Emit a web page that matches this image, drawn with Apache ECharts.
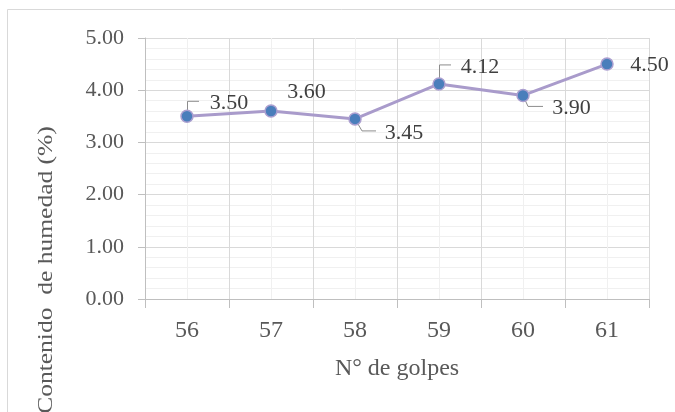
<!DOCTYPE html>
<html>
<head>
<meta charset="utf-8">
<script src="https://cdn.jsdelivr.net/npm/echarts@6/dist/echarts.min.js"></script>
<style>
  html, body { margin: 0; padding: 0; background: #fff; }
  #chart { width: 675px; height: 412px; }
</style>
</head>
<body>
<div id="chart"></div>
<script>
// Moisture content by number of blows
const golpes = ['56', '57', '58', '59', '60', '61'];
const humedad = [3.50, 3.60, 3.45, 4.12, 3.90, 4.50];
const yTicks = [0, 1, 2, 3, 4, 5];

// Value label offset from its point (px), and the leader polyline drawn for it (px from the point)
const labelShift = [[16, -13], [9.5, -19], [23, 14], [15, -17], [22.5, 12.5], [16.5, 1]];
const leaderPath = [
  [[0.5, -4], [0.5, -15], [12, -15]],
  null,
  [[0, 0], [7, 12], [21, 12]],
  [[0.5, -4], [0.5, -19], [12, -19]],
  [[0, 0], [5, 11], [20, 11]],
  null
];

const serif = '"Liberation Serif", "Times New Roman", serif';

const chart = echarts.init(document.getElementById('chart'), null, { renderer: 'canvas' });

chart.setOption({
  animation: false,
  backgroundColor: '#ffffff',
  graphic: [
    {
      type: 'rect',
      shape: { x: 7.5, y: 9.5, width: 700, height: 500 },
      style: { fill: 'none', stroke: '#d9d9d9', lineWidth: 1 },
      silent: true,
      z: -10
    },
    {
      type: 'text',
      x: 46,
      y: 270,
      rotation: Math.PI / 2,
      scaleX: 1.16,
      style: {
        text: 'Contenido  de humedad (%)',
        font: '22px ' + serif,
        fill: '#595959',
        align: 'center',
        verticalAlign: 'middle'
      }
    }
  ],
  grid: { left: 145, right: 26, top: 38, bottom: 113 },
  xAxis: [
    {
      type: 'category',
      data: golpes,
      boundaryGap: true,
      name: 'N° de golpes',
      nameLocation: 'middle',
      nameGap: 58,
      nameTextStyle: { fontFamily: serif, fontSize: 24, color: '#595959' },
      axisLine: { lineStyle: { color: '#bfbfbf', width: 1 } },
      axisTick: { show: true, length: 9, interval: 0, lineStyle: { color: '#bfbfbf' } },
      axisLabel: { margin: 20, fontFamily: serif, fontSize: 24, color: '#595959' },
      splitLine: { show: false },
      z: 5
    },
    {
      // half-category grid: boundaries in mid grey, centres lighter
      type: 'value',
      position: 'top',
      min: 0,
      max: golpes.length * 2,
      interval: 1,
      axisLine: { show: false },
      axisTick: { show: false },
      axisLabel: { show: false },
      splitLine: { show: true, lineStyle: { color: ['#d9d9d9', '#f0f0f0'], width: 1 } }
    }
  ],
  yAxis: {
    type: 'value',
    min: yTicks[0],
    max: yTicks[yTicks.length - 1],
    interval: 1,
    axisLine: { show: true, lineStyle: { color: '#bfbfbf', width: 1 } },
    axisTick: { show: true, length: 7, lineStyle: { color: '#bfbfbf' } },
    axisLabel: {
      margin: 21,
      fontFamily: serif,
      fontSize: 22,
      color: '#595959',
      formatter: v => v.toFixed(2)
    },
    splitLine: { show: true, lineStyle: { color: '#d9d9d9', width: 1 } },
    minorTick: { show: false, splitNumber: 5 },
    minorSplitLine: { show: true, lineStyle: { color: '#f0f0f0', width: 1 } }
  },
  series: [
    {
      // leader lines between points and their value labels
      type: 'custom',
      xAxisIndex: 0,
      data: humedad.map((v, i) => [i, v]),
      renderItem: (params, api) => {
        const path = leaderPath[params.dataIndex];
        if (!path) return null;
        const p = api.coord([api.value(0), api.value(1)]);
        return {
          type: 'polyline',
          shape: { points: path.map(([dx, dy]) => [p[0] + dx, p[1] + dy]) },
          style: { stroke: '#8c8c8c', lineWidth: 1, fill: null }
        };
      },
      silent: true,
      z: 3
    },
    {
      type: 'line',
      xAxisIndex: 0,
      data: humedad,
      symbol: 'circle',
      symbolSize: 12,
      lineStyle: { color: '#a99bcb', width: 3 },
      itemStyle: { color: '#4a7ebb', borderColor: '#ab9fd0', borderWidth: 1.5 },
      label: {
        show: true,
        position: 'right',
        distance: 0,
        fontFamily: serif,
        fontSize: 22,
        color: '#404040',
        formatter: p => p.value.toFixed(2)
      },
      labelLayout: p => ({ dx: labelShift[p.dataIndex][0], dy: labelShift[p.dataIndex][1] }),
      z: 10
    }
  ]
});
</script>
</body>
</html>
